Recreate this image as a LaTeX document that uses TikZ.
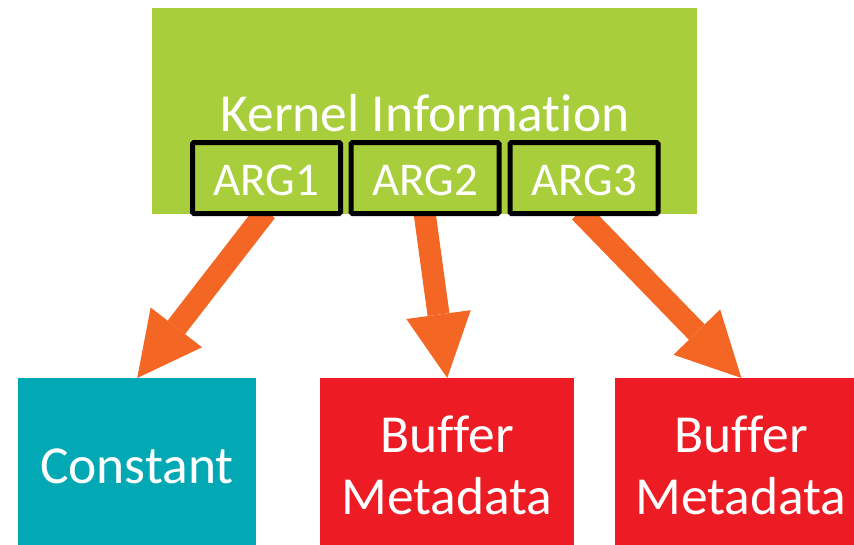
\documentclass[tikz,border=0pt]{standalone}
\usepackage{fontspec}
\setmainfont{Carlito}[Ligatures=NoCommon, RawFeature={-liga;-clig;-calt;-dlig}]
\usetikzlibrary{arrows.meta}
\definecolor{kgreen}{HTML}{A8CE3B}
\definecolor{kteal}{HTML}{02A9B5}
\definecolor{kred}{HTML}{ED1C24}
\definecolor{korange}{HTML}{F36624}
\pgfdeclarelayer{back}
\pgfdeclarelayer{mid}
\pgfsetlayers{back,mid,main}
\tikzset{
  panel/.style={fill=#1, draw=none, inner sep=0pt, anchor=north west},
  argbox/.style={draw=black, line width=5pt, fill=kgreen, rounded corners=1.5pt,
    minimum width=148pt, minimum height=71pt, inner sep=0pt},
  wtext/.style={text=white, inner sep=0pt, anchor=base},
  bigfont/.style={font=\fontsize{53.5}{60}\selectfont},
  argfont/.style={font=\fontsize{47}{52}\selectfont},
  flow/.style={draw=korange, line width=22pt, shorten <=-6pt,
    -{Triangle[length=64pt,width=65pt,line width=0pt]}},
}
\begin{document}
\begin{tikzpicture}[x=1pt,y=-1pt]
\useasboundingbox (0,0) rectangle (854,544);
\begin{pgfonlayer}{back}
  \node[panel=kgreen, minimum width=545pt, minimum height=206pt] (kern) at (152,8) {};
\end{pgfonlayer}
\node[wtext, bigfont] (ktitle) at (425,131) {Kernel Information};
\node[argbox] (arg1) at (266.5,178) {};
\node[argbox] (arg2) at (425,178) {};
\node[argbox] (arg3) at (584,178) {};
\node[wtext, argfont] (t1) at (266.5,195) {ARG1};
\node[wtext, argfont] (t2) at (425,195) {ARG2};
\node[wtext, argfont] (t3) at (584,195) {ARG3};
% destination boxes
\node[panel=kteal, minimum width=238pt, minimum height=168pt] (c1) at (18,378) {};
\node[panel=kred, minimum width=254pt, minimum height=168pt] (c2) at (320,378) {};
\node[panel=kred, minimum width=254pt, minimum height=168pt] (c3) at (615,378) {};
\node[wtext, bigfont] (l1) at (137,483) {Constant};
\node[wtext, bigfont] (l2a) at (447,452) {Buffer};
\node[wtext, bigfont] (l2b) at (447,514) {Metadata};
\node[wtext, bigfont] (l3a) at (741,452) {Buffer};
\node[wtext, bigfont] (l3b) at (741,514) {Metadata};
% connectors
\begin{pgfonlayer}{mid}
  \draw[flow] ([xshift=-4pt]arg1.south) -- (c1.north);
  \draw[flow] (arg2.south) -- (c2.north);
  \draw[flow] (arg3.south) -- ([xshift=-128pt]c3.north east);
\end{pgfonlayer}
\end{tikzpicture}
\end{document}
